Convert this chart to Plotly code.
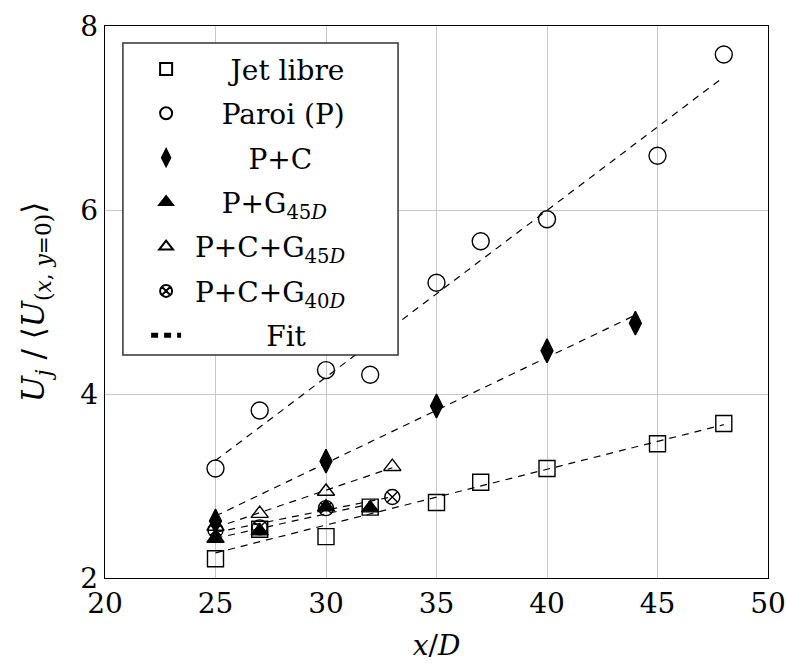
import numpy as np
import plotly.graph_objects as go

# ---- data ----
x_jet = [25, 27, 30, 32, 35, 37, 40, 45, 48]
y_jet = [2.21, 2.53, 2.45, 2.77, 2.82, 3.04, 3.19, 3.46, 3.68]

x_paroi = [25, 27, 30, 32, 35, 37, 40, 45, 48]
y_paroi = [3.19, 3.82, 4.26, 4.21, 5.21, 5.66, 5.90, 6.59, 7.69]

x_pc = [25, 30, 35, 40, 44]
y_pc = [2.62, 3.27, 3.87, 4.47, 4.77]

x_pg45 = [25, 27, 30, 32]
y_pg45 = [2.43, 2.51, 2.77, 2.76]

x_pcg45 = [25, 27, 30, 33]
y_pcg45 = [2.56, 2.70, 2.94, 3.21]

x_pcg40 = [25, 27, 30, 33]
y_pcg40 = [2.52, 2.55, 2.76, 2.88]

names = ["Jet libre", "Paroi (P)", "P+C",
         "P+G<sub>45<i>D</i></sub>", "P+C+G<sub>45<i>D</i></sub>",
         "P+C+G<sub>40<i>D</i></sub>", "Fit"]
# leading non-breaking spaces to centre the legend labels as in the reference
name_pad = [5, 4, 7, 4, 1, 1, 9]

x_ticks = [20, 25, 30, 35, 40, 45, 50]
y_ticks = [2, 4, 6, 8]

series = [
    (x_jet, y_jet, "square-open", 16),
    (x_paroi, y_paroi, "circle-open", 17),
    (x_pc, y_pc, "diamond-tall", 17),
    (x_pg45, y_pg45, "triangle-up", 15),
    (x_pcg45, y_pcg45, "triangle-up-open", 15),
    (x_pcg40, y_pcg40, "circle-x-open", 15),
]

FONT = "DejaVu Serif"
fig = go.Figure()

for i, (xs, ys, sym, sz) in enumerate(series):
    fig.add_trace(go.Scatter(
        x=xs, y=ys, mode="markers",
        name="\u00a0" * name_pad[i] + names[i],
        legendgroup=f"g{i}",
        marker=dict(symbol=sym, size=sz, color="black",
                    line=dict(color="black", width=1.4)),
    ))

for i, (xs, ys, *_ ) in enumerate(series):
    a, b = np.polyfit(xs, ys, 1)
    xf = np.array([min(xs), max(xs)], dtype=float)
    fig.add_trace(go.Scatter(
        x=xf, y=a * xf + b, mode="lines",
        name="\u00a0" * name_pad[6] + names[6],
        legendgroup="fit", showlegend=(i == 0),
        line=dict(color="black", width=1.2, dash="7px,6px"),
    ))

# legend frame (paper coordinates)
fig.add_shape(type="rect", xref="paper", yref="paper",
              x0=0.027, x1=0.442, y0=0.404, y1=0.969,
              line=dict(color="#333", width=1.5), fillcolor="white",
              layer="above")

fig.update_layout(
    template="none",
    width=786, height=664,
    margin=dict(l=105, r=18, t=26, b=86),
    paper_bgcolor="white", plot_bgcolor="white",
    font=dict(family=FONT, size=28, color="black"),
    showlegend=True,
    legend=dict(
        x=0.062, y=0.967, xanchor="left", yanchor="top",
        bgcolor="rgba(0,0,0,0)", borderwidth=0,
        font=dict(family=FONT, size=28, color="black"),
        traceorder="grouped", tracegroupgap=5,
        itemsizing="constant",
    ),
    xaxis=dict(
        range=[20, 50], tickvals=x_ticks, ticktext=[str(v) for v in x_ticks],
        showgrid=True, gridcolor="#c8c8c8", gridwidth=1.3,
        showline=True, linecolor="black", linewidth=1.4, mirror=True,
        ticks="", zeroline=False,
        tickfont=dict(family=FONT, size=28, color="black"),
        title=dict(text="<i>x</i>/<i>D</i>", font=dict(family=FONT, size=28, color="black"), standoff=16),
    ),
    yaxis=dict(
        range=[2, 8], tickvals=y_ticks, ticktext=[str(v) for v in y_ticks],
        showgrid=True, gridcolor="#c8c8c8", gridwidth=1.3,
        showline=True, linecolor="black", linewidth=1.4, mirror=True,
        ticks="", zeroline=False,
        tickfont=dict(family=FONT, size=28, color="black"),
        title=dict(text="<i>U<sub>j</sub></i> / ⟨<i>U</i><sub>(<i>x</i>, <i>y</i>=0)</sub>⟩",
                   font=dict(family=FONT, size=31, color="black"), standoff=26),
    ),
)

fig.write_html("out.html")
